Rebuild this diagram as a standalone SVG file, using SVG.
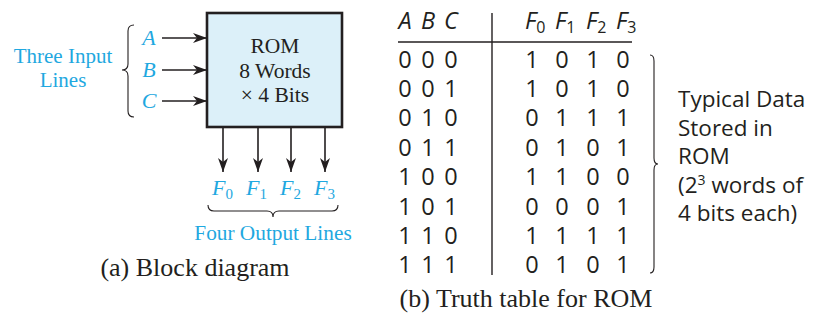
<svg xmlns="http://www.w3.org/2000/svg" width="817" height="320" viewBox="0 0 817 320">
<defs>
<marker id="arr" markerUnits="userSpaceOnUse" markerWidth="15" markerHeight="11" refX="14" refY="5.5" orient="auto">
<path d="M0,0.5 L14,5.5 L0,10.5 L4,5.5 Z" fill="#231f20"/>
</marker>
<style>
.serif{font-family:"Liberation Serif","Times New Roman",serif;}
.sans{font-family:"Open Sans","Noto Sans","DejaVu Sans",sans-serif;}
.cyan{fill:#1fa8e0;}
.dark{fill:#231f20;}
.conn{stroke:#231f20;stroke-width:1.6;fill:none;marker-end:url(#arr);}
.brace{stroke:#231f20;stroke-width:1.1;fill:none;}
.rule{stroke:#231f20;stroke-width:1.4;}
.it{font-style:italic;}
.num{font-size:23.5px;text-anchor:middle;}
</style>
</defs>
<rect width="817" height="320" fill="#ffffff"/>

<g id="input-label">
<text class="serif cyan" font-size="21" text-anchor="middle" x="63" y="63">Three Input</text>
<text class="serif cyan" font-size="21" text-anchor="middle" x="63" y="87">Lines</text>
<path class="brace" d="M134,25 Q128,25 128,31 L128,64 Q128,70 122,70 Q128,70 128,76 L128,111 Q128,117 134,117"/>
</g>

<g id="input-A"><text class="serif cyan it" font-size="22" text-anchor="middle" x="149" y="45">A</text></g>
<g id="input-B"><text class="serif cyan it" font-size="22" text-anchor="middle" x="149" y="77">B</text></g>
<g id="input-C"><text class="serif cyan it" font-size="22" text-anchor="middle" x="149" y="108">C</text></g>

<g id="rom">
<rect x="207" y="13" width="135" height="114" fill="#dcf0f9" stroke="#231f20" stroke-width="2.6"/>
<text class="serif dark" font-size="21.5" text-anchor="middle" x="275" y="53">ROM</text>
<text class="serif dark" font-size="21.5" text-anchor="middle" x="275" y="78">8 Words</text>
<text class="serif dark" font-size="21.5" text-anchor="middle" x="275" y="102">× 4 Bits</text>
</g>

<g id="connectors">
<line class="conn" x1="162" y1="38" x2="207" y2="38"/>
<line class="conn" x1="162" y1="70" x2="207" y2="70"/>
<line class="conn" x1="162" y1="101" x2="207" y2="101"/>
<line class="conn" x1="223" y1="128" x2="223" y2="172"/>
<line class="conn" x1="258" y1="128" x2="258" y2="172"/>
<line class="conn" x1="291" y1="128" x2="291" y2="172"/>
<line class="conn" x1="325" y1="128" x2="325" y2="172"/>
</g>

<g id="output-F0"><text class="serif cyan" font-size="22" x="212" y="195"><tspan class="it">F</tspan><tspan font-size="15" dy="4">0</tspan></text></g>
<g id="output-F1"><text class="serif cyan" font-size="22" x="246" y="195"><tspan class="it">F</tspan><tspan font-size="15" dy="4">1</tspan></text></g>
<g id="output-F2"><text class="serif cyan" font-size="22" x="280" y="195"><tspan class="it">F</tspan><tspan font-size="15" dy="4">2</tspan></text></g>
<g id="output-F3"><text class="serif cyan" font-size="22" x="314" y="195"><tspan class="it">F</tspan><tspan font-size="15" dy="4">3</tspan></text></g>

<g id="output-label">
<path class="brace" d="M208,205 Q208,211 214,211 L267,211 Q273,211 273,217 Q273,211 279,211 L332,211 Q338,211 338,205"/>
<text class="serif cyan" font-size="21.3" text-anchor="middle" x="273" y="240">Four Output Lines</text>
</g>

<g id="caption-a"><text class="serif dark" font-size="26" text-anchor="middle" x="195" y="276">(a) Block diagram</text></g>

<g id="truth-table">
<line class="rule" x1="398" y1="42" x2="632" y2="42"/>
<line class="rule" x1="492" y1="13" x2="492" y2="275"/>
<g class="sans dark it" font-size="23.5">
<text x="405" y="29" text-anchor="middle">A</text>
<text x="428" y="29" text-anchor="middle">B</text>
<text x="451" y="29" text-anchor="middle">C</text>
<text x="525" y="29">F<tspan font-size="16" font-style="normal" dy="4">0</tspan></text>
<text x="555" y="29">F<tspan font-size="16" font-style="normal" dy="4">1</tspan></text>
<text x="586" y="29">F<tspan font-size="16" font-style="normal" dy="4">2</tspan></text>
<text x="616" y="29">F<tspan font-size="16" font-style="normal" dy="4">3</tspan></text>
</g>
<g class="sans dark num">
<text y="68"><tspan x="405">0</tspan><tspan x="428">0</tspan><tspan x="451">0</tspan><tspan x="532">1</tspan><tspan x="562">0</tspan><tspan x="593">1</tspan><tspan x="623">0</tspan></text>
<text y="97"><tspan x="405">0</tspan><tspan x="428">0</tspan><tspan x="451">1</tspan><tspan x="532">1</tspan><tspan x="562">0</tspan><tspan x="593">1</tspan><tspan x="623">0</tspan></text>
<text y="126"><tspan x="405">0</tspan><tspan x="428">1</tspan><tspan x="451">0</tspan><tspan x="532">0</tspan><tspan x="562">1</tspan><tspan x="593">1</tspan><tspan x="623">1</tspan></text>
<text y="156"><tspan x="405">0</tspan><tspan x="428">1</tspan><tspan x="451">1</tspan><tspan x="532">0</tspan><tspan x="562">1</tspan><tspan x="593">0</tspan><tspan x="623">1</tspan></text>
<text y="185"><tspan x="405">1</tspan><tspan x="428">0</tspan><tspan x="451">0</tspan><tspan x="532">1</tspan><tspan x="562">1</tspan><tspan x="593">0</tspan><tspan x="623">0</tspan></text>
<text y="215"><tspan x="405">1</tspan><tspan x="428">0</tspan><tspan x="451">1</tspan><tspan x="532">0</tspan><tspan x="562">0</tspan><tspan x="593">0</tspan><tspan x="623">1</tspan></text>
<text y="244"><tspan x="405">1</tspan><tspan x="428">1</tspan><tspan x="451">0</tspan><tspan x="532">1</tspan><tspan x="562">1</tspan><tspan x="593">1</tspan><tspan x="623">1</tspan></text>
<text y="273"><tspan x="405">1</tspan><tspan x="428">1</tspan><tspan x="451">1</tspan><tspan x="532">0</tspan><tspan x="562">1</tspan><tspan x="593">0</tspan><tspan x="623">1</tspan></text>
</g>
</g>

<g id="data-note">
<path class="brace" d="M650,55 Q654,55 654,61 L654,158 Q654,164 658,164 Q654,164 654,170 L654,267 Q654,273 650,273"/>
<g class="sans dark" font-size="22.5">
<text x="678" y="107">Typical Data</text>
<text x="678" y="136">Stored in</text>
<text x="678" y="164">ROM</text>
<text x="678" y="193">(2<tspan font-size="14" dy="-8">3</tspan><tspan dy="8"> words of</tspan></text>
<text x="678" y="221">4 bits each)</text>
</g>
</g>

<g id="caption-b"><text class="serif dark" font-size="26" text-anchor="middle" x="526" y="307">(b) Truth table for ROM</text></g>
</svg>
